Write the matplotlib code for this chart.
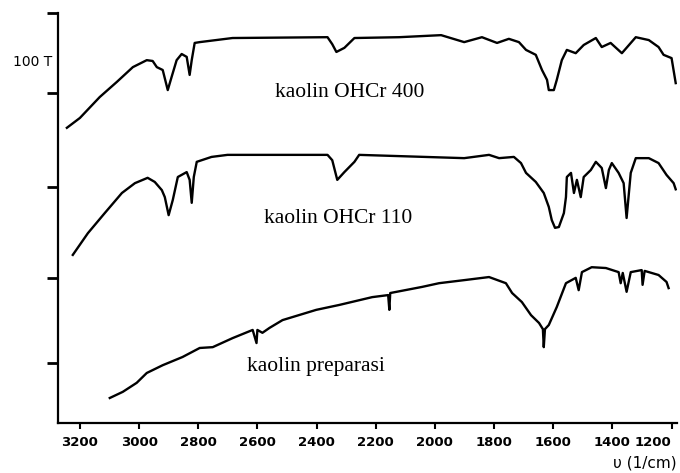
import matplotlib
matplotlib.use('Agg')
import matplotlib.pyplot as plt
import matplotlib.transforms as mtransforms

# wavenumber (1/cm) and transmittance (arbitrary %, stacked)
w_400 = [3244, 3200, 3133, 3075, 3021, 2974, 2954, 2940, 2920, 2903, 2890,
         2873, 2856, 2839, 2829, 2822, 2812, 2795, 2684, 2363, 2347, 2333,
         2306, 2272, 2121, 1979, 1901, 1841, 1790, 1750, 1716, 1692, 1659,
         1638, 1621, 1615, 1598, 1588, 1571, 1554, 1524, 1497, 1456, 1436,
         1406, 1368, 1321, 1277, 1244, 1227, 1200, 1186]
t_400 = [72.0, 74.4, 79.5, 83.2, 86.8, 88.5, 88.3, 86.8, 86.1, 81.2, 84.4,
         88.5, 90.0, 89.3, 84.9, 88.5, 92.7, 92.9, 93.9, 94.1, 92.4, 90.5,
         91.5, 93.9, 94.1, 94.6, 92.9, 94.1, 92.7, 93.7, 92.9, 91.0, 89.8,
         86.1, 83.7, 81.2, 81.2, 83.7, 88.5, 91.0, 90.2, 92.2, 93.9, 91.7,
         92.7, 90.2, 94.1, 93.4, 91.7, 89.8, 89.0, 82.9]

w_110 = [3224, 3173, 3116, 3058, 3014, 2971, 2947, 2923, 2913, 2900, 2886,
         2869, 2839, 2829, 2822, 2815, 2805, 2755, 2701, 2363, 2347, 2330,
         2306, 2272, 2256, 1901, 1817, 1783, 1733, 1709, 1692, 1659, 1632,
         1615, 1605, 1594, 1581, 1564, 1557, 1554, 1540, 1530, 1520, 1507,
         1497, 1473, 1456, 1436, 1422, 1412, 1402, 1379, 1362, 1352, 1338,
         1321, 1277, 1244, 1217, 1193, 1186]
t_110 = [41.0, 46.3, 51.2, 56.1, 58.5, 59.8, 58.8, 56.8, 55.1, 50.7, 54.4,
         60.0, 61.2, 59.3, 53.7, 60.0, 63.7, 64.9, 65.4, 65.4, 64.1, 59.3,
         61.2, 63.7, 65.4, 64.6, 65.4, 64.6, 64.9, 63.4, 61.0, 58.8, 56.1,
         52.7, 49.5, 47.6, 47.8, 51.2, 55.1, 60.0, 61.0, 56.1, 59.3, 55.1,
         60.0, 61.7, 63.7, 62.2, 57.3, 61.7, 63.4, 61.0, 58.5, 50.0, 61.0,
         64.6, 64.6, 63.4, 60.5, 58.5, 57.0]

w_prep = [3099, 3055, 3008, 2974, 2920, 2853, 2795, 2751, 2684, 2616, 2603,
          2600, 2583, 2559, 2515, 2401, 2323, 2212, 2158, 2154, 2151, 2043,
          1986, 1895, 1817, 1760, 1739, 1706, 1675, 1648, 1635, 1632, 1628,
          1615, 1588, 1557, 1524, 1514, 1503, 1470, 1422, 1379, 1372, 1365,
          1352, 1338, 1301, 1298, 1291, 1244, 1217, 1210]
t_prep = [6.1, 7.6, 9.8, 12.2, 14.1, 16.1, 18.3, 18.5, 20.7, 22.7, 19.5,
          22.7, 22.0, 23.2, 25.1, 27.6, 28.8, 30.7, 31.2, 27.6, 31.7, 33.2,
          34.1, 34.9, 35.6, 34.1, 31.7, 29.5, 26.3, 24.4, 22.9, 18.5, 22.9,
          23.9, 28.3, 34.1, 35.4, 32.4, 36.8, 38.0, 37.8, 36.8, 34.1, 36.6,
          32.0, 36.8, 37.3, 33.7, 37.1, 36.1, 34.4, 32.9]

x_ticks = [3200, 3000, 2800, 2600, 2400, 2200, 2000, 1800, 1600, 1400, 1200]
y_ticks = [100, 80.5, 57.6, 35.4, 14.6]

fig = plt.figure(figsize=(6.8, 4.73), dpi=100)
ax = fig.add_axes([0.0853, 0.1057, 0.9097, 0.8668])

for w, t in [(w_400, t_400), (w_110, t_110), (w_prep, t_prep)]:
    ax.plot(w, t, color='black', lw=1.7, solid_joinstyle='round')

ax.set_xlim(3274, 1183)
ax.set_ylim(0, 100)

ax.spines['top'].set_visible(False)
ax.spines['right'].set_visible(False)
ax.spines['left'].set_linewidth(1.6)
ax.spines['bottom'].set_linewidth(1.6)

ax.set_xticks(x_ticks)
ax.set_xticklabels([str(v) for v in x_ticks], fontsize=9.5, fontweight='bold')
ax.get_xticklabels()[-1].set_horizontalalignment('right')
ax.tick_params(axis='x', direction='out', length=4, width=1.5, pad=5)
ax.set_yticks(y_ticks)
ax.set_yticklabels([])
ax.tick_params(axis='y', direction='out', length=8, width=2)

trans = mtransforms.blended_transform_factory(ax.transAxes, ax.transData)
ax.text(-0.01, 88.0, '100 T', transform=trans, ha='right', va='center',
        fontsize=10)

serif = ['Liberation Serif', 'DejaVu Serif']
ax.text(2289, 80.7, 'kaolin OHCr 400', family=serif, fontsize=15.5,
        ha='center', va='center')
ax.text(2326, 50.0, 'kaolin OHCr 110', family=serif, fontsize=15.5,
        ha='center', va='center')
ax.text(2401, 13.9, 'kaolin preparasi', family=serif, fontsize=15.5,
        ha='center', va='center')

fig.text(0.995, 0.022, 'υ (1/cm)', ha='right', va='center', fontsize=11)

plt.savefig('out.png', dpi=100)
